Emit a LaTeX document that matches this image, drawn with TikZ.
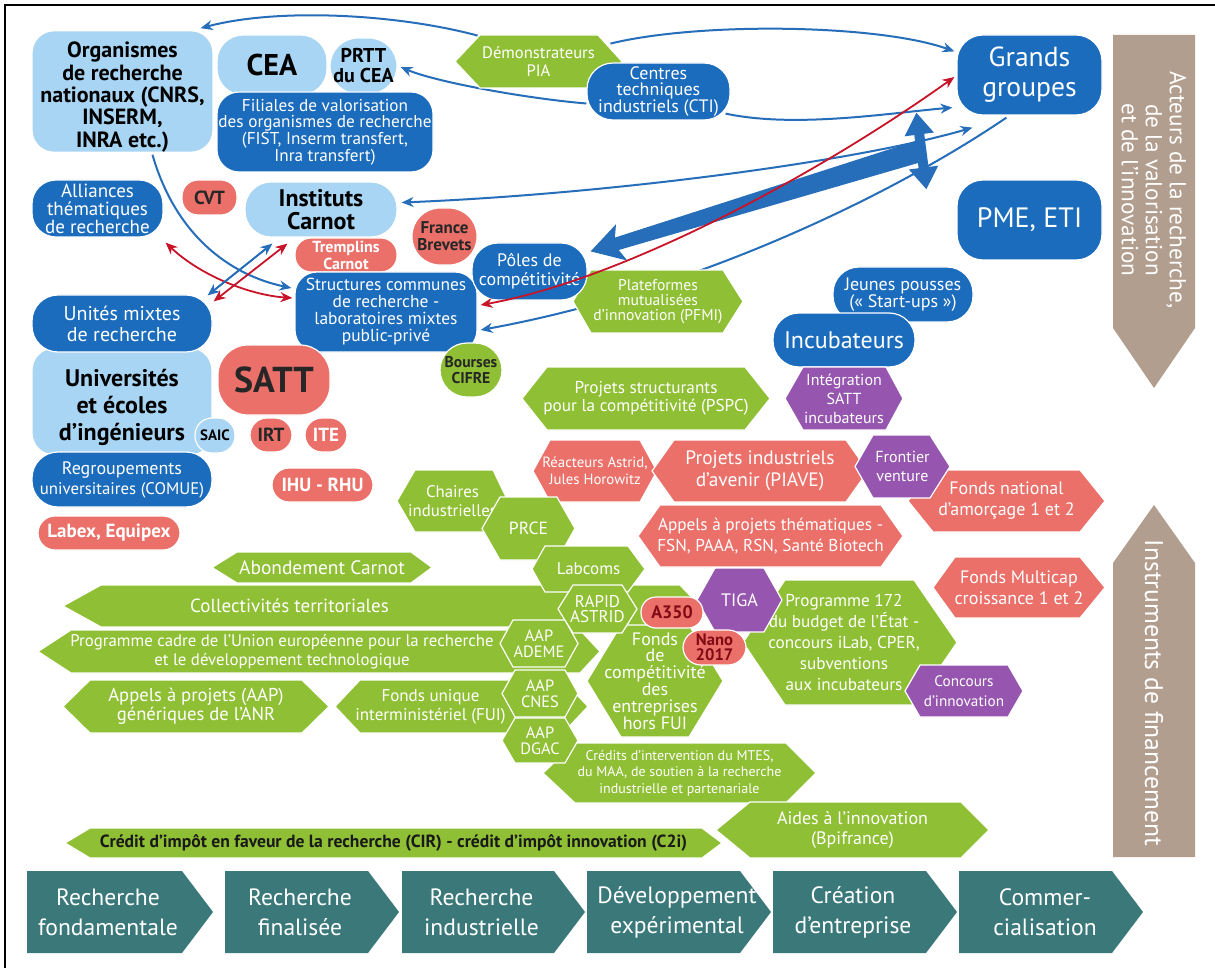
\documentclass[tikz,border=0pt]{standalone}
\usepackage{fontspec}
\setmainfont{PT Sans}
\usetikzlibrary{arrows.meta,calc}
\definecolor{clight}{RGB}{168,213,243}
\definecolor{cdark}{RGB}{27,108,188}
\definecolor{csal}{RGB}{234,112,105}
\definecolor{cgreen}{RGB}{143,191,52}
\definecolor{cpurp}{RGB}{150,85,175}
\definecolor{ctaupe}{RGB}{178,158,142}
\definecolor{cteal}{RGB}{58,120,122}
\definecolor{carrb}{RGB}{38,110,185}
\definecolor{carrr}{RGB}{200,20,40}
\definecolor{cdred}{RGB}{130,10,20}
\newcommand\fz[2]{\fontsize{#1}{#2}\selectfont}
\pgfdeclarelayer{back}
\pgfdeclarelayer{bg}
\pgfsetlayers{back,bg,main}
% box: options(name,...), style, x1, y1, x2, y2, text
\newcommand\boxn[7]{\node[#2,#1,minimum width={(#5-#3)*0.5pt},minimum height={(#6-#4)*0.5pt}] at ({(#3+#5)/2},{(#4+#6)/2}) {#7};}
% hexagon: options(name,...), fill style, x1, y1, x2, y2, inset left, inset right, text
\newcommand\hexn[9]{%
 \path[#2] (#3,{(#4+#6)/2}) -- ({#3+#7},#4) -- ({#5-#8},#4) -- (#5,{(#4+#6)/2}) -- ({#5-#8},#6) -- ({#3+#7},#6) -- cycle;
 \node[htext,#1,minimum width={(#5-#3)*0.5pt},minimum height={(#6-#4)*0.5pt}] at ({(#3+#5)/2},{(#4+#6)/2}) {#9};}
\tikzset{
 rb/.style={rectangle, rounded corners=#1, inner sep=0pt, align=center, draw=white, line width=0.6pt},
 lb/.style={rb=#1, fill=clight, text=black, font=\bfseries},
 db/.style={rb=#1, fill=cdark, text=white},
 sb/.style={rb=#1, fill=csal, text=white},
 gb/.style={rb=#1, fill=cgreen, text=black},
 htext/.style={inner sep=0pt, align=center, text=white},
 gh/.style={fill=cgreen, draw=white, line width=0.6pt},
 rh/.style={fill=csal, draw=white, line width=0.6pt},
 ph/.style={fill=cpurp, draw=white, line width=0.6pt},
 th/.style={fill=cteal},
 bconn/.style={draw=carrb, line width=1pt},
 rconn/.style={draw=carrr, line width=0.9pt},
 tipe/.style={-{Stealth[length=6pt,width=5pt]}},
 tipbo/.style={{Stealth[length=6pt,width=5pt]}-{Stealth[length=6pt,width=5pt]}},
}
\begin{document}
\begin{tikzpicture}[x=0.5pt,y=-0.5pt]
\useasboundingbox (0,0) rectangle (1215,968);
\begin{pgfonlayer}{back}
\fill[white] (0,0) rectangle (1215,968);
\end{pgfonlayer}
\draw[line width=1.2pt] (5,968) -- (5,5) -- (1215,5);

% side arrows
\path[fill=ctaupe] (1113,35) -- (1195,35) -- (1195,328) -- (1154,388) -- (1113,328) -- cycle;
\node[rotate=-90, text=white, align=center, font=\fz{11.6}{12}] (acteurs) at (1154,190) {Acteurs de la recherche,\\de la valorisation\\et de l’innovation};
\path[fill=ctaupe] (1154,505) -- (1195,563) -- (1195,857) -- (1113,857) -- (1113,563) -- cycle;
\node[rotate=-90, text=white, font=\fz{12.8}{12}] (instr) at (1154,693) {Instruments de financement};

% bottom chevrons
\hexn{name=t1,font={\fz{11.8}{15}},xshift=-6pt}{th}{27}{871}{213}{953}{0}{31}{Recherche\\fondamentale}
\hexn{name=t2,font={\fz{11.8}{15}},xshift=-6pt}{th}{225}{871}{399}{953}{0}{31}{Recherche\\finalisée}
\hexn{name=t3,font={\fz{11.8}{15}},xshift=-6pt}{th}{402}{871}{585}{953}{0}{31}{Recherche\\industrielle}
\hexn{name=t4,font={\fz{11.8}{15}},xshift=-1pt}{th}{587}{871}{771}{953}{0}{31}{Développement\\expérimental}
\hexn{name=t5,font={\fz{11.8}{15}},xshift=-6pt}{th}{773}{871}{957}{953}{0}{31}{Création\\d’entreprise}
\hexn{name=t6,font={\fz{11.8}{15}},xshift=-3pt}{th}{959}{871}{1143}{953}{0}{31}{Commer-\\cialisation}

% top-left actors
\boxn{name=org,font={\fz{11}{11.2}\bfseries}}{lb=11pt}{32}{35}{213}{148}{\rule{0pt}{13.5pt}Organismes\\de recherche\\nationaux (CNRS,\\INSERM,\\INRA etc.)}
\boxn{name=cea,font={\fz{15}{15}\bfseries}}{lb=13pt}{217}{35}{327}{95}{CEA}
\boxn{name=prtt,font={\fz{10}{10}\bfseries}}{lb=14pt}{330}{38}{397}{94}{PRTT\\du CEA}
\boxn{name=fil,font={\fz{8.6}{8.3}}}{db=11pt}{217}{92}{433}{172}{Filiales de valorisation\\des organismes de recherche\\(FIST, Inserm transfert,\\Inra transfert)}
\boxn{name=all,font={\fz{9.5}{9}}}{db=12pt}{32}{180}{163}{237}{Alliances\\thématiques\\de recherche}
\boxn{name=cvt,font={\fz{9.5}{9.5}\bfseries},text=black!85}{sb=8pt}{182}{180}{237}{215}{CVT}
\boxn{name=carnot,font={\fz{12}{11.5}\bfseries}}{lb=13pt}{245}{182}{397}{237}{Instituts\\Carnot}
\boxn{name=tremp,font={\fz{8}{8.5}\bfseries}}{sb=8pt}{295}{238}{397}{272}{Tremplins\\Carnot}
\boxn{name=fb,font={\fz{8.5}{8.5}\bfseries},text=black!85}{sb=14pt}{412}{208}{477}{265}{France\\Brevets}

\hexn{name=demo,font={\fz{8.3}{9}}}{gh}{455}{35}{622}{88}{25}{24}{Démonstrateurs\\PIA}
\boxn{name=cti,font={\fz{9}{8.3}}}{db=13pt}{587}{63}{730}{120}{Centres\\techniques\\industriels (CTI)}
\boxn{name=gg,font={\fz{13.8}{15}}}{db=13pt}{957}{35}{1102}{115}{Grands\\groupes}
\boxn{name=pme,font={\fz{14}{14}}}{db=13pt}{957}{180}{1102}{260}{PME, ETI}
\boxn{name=jp,font={\fz{9}{8.5}}}{db=13pt}{833}{267}{973}{322}{Jeunes pousses\\(« Start-ups »)}
\boxn{name=incub,font={\fz{12}{12}}}{db=13pt}{773}{313}{915}{367}{Incubateurs}

\hexn{name=pfmi,font={\fz{7.8}{7.6}}}{gh}{573}{270}{743}{333}{18}{20}{Plateformes\\mutualisées\\d’innovation (PFMI)}
\boxn{name=scr,font={\fz{8.7}{8.5}}}{db=11pt}{295}{272}{477}{352}{Structures communes\\de recherche -\\laboratoires mixtes\\public-privé}
\boxn{name=poles,font={\fz{9}{9.5}}}{db=13pt}{472}{243}{587}{300}{Pôles de\\compétitivité}

\boxn{name=univ,font={\fz{12}{13.5}\bfseries}}{lb=11pt}{32}{348}{212}{455}{\rule{0pt}{14.5pt}Universités\\et écoles\\d’ingénieurs}
\boxn{name=umr,font={\fz{10}{10.5}}}{db=13pt}{32}{295}{212}{352}{Unités mixtes\\de recherche}
\boxn{name=comue,font={\fz{9}{10}}}{db=13pt}{32}{452}{212}{507}{Regroupements\\{\fz{8.4}{10}universitaires (COMUE)}}
\boxn{name=saic,font={\fz{7.5}{8}\bfseries}}{lb=8.5pt}{195}{418}{235}{453}{SAIC}
\boxn{name=satt,font={\fz{18}{18}\bfseries},text=black!85}{sb=15pt}{218}{345}{330}{415}{SATT}
\boxn{name=irt,font={\fz{9.5}{9.5}\bfseries},text=black!85}{sb=8.5pt}{250}{418}{292}{452}{IRT}
\boxn{name=ite,font={\fz{9.5}{9.5}\bfseries}}{sb=8.5pt}{305}{418}{347}{452}{ITE}
\boxn{name=ihu,font={\fz{9.5}{9.5}\bfseries}}{sb=8.5pt}{272}{468}{373}{502}{IHU - RHU}
\boxn{name=labex,font={\fz{9.5}{9.5}\bfseries}}{sb=8.5pt}{38}{516}{180}{550}{Labex, Equipex}
\boxn{name=cifre,font={\fz{7.8}{8}\bfseries},text=black!85}{gb=13.5pt}{440}{343}{502}{397}{Bourses\\CIFRE}

% instruments, upper
\hexn{name=pspc,font={\fz{8.6}{8.8}}}{gh}{522}{367}{770}{430}{25}{25}{Projets structurants\\pour la compétitivité (PSPC)}
\hexn{name=integ,font={\fz{8}{9.5}}}{ph}{785}{367}{903}{430}{18}{17}{Intégration\\SATT\\incubateurs}
\hexn{name=reac,font={\fz{7.4}{8.5}}}{rh}{533}{440}{657}{502}{17}{17}{Réacteurs Astrid,\\Jules Horowitz}
\hexn{name=piave,font={\fz{9.7}{11}}}{rh}{652}{440}{868}{502}{22}{22}{Projets industriels\\d’avenir (PIAVE)}
\hexn{name=fna,font={\fz{9}{10.5}}}{rh}{908}{470}{1105}{532}{25}{25}{Fonds national\\d’amorçage 1 et 2}
\hexn{name=front,font={\fz{8}{9.5}}}{ph}{855}{435}{950}{498}{18}{20}{Frontier\\venture}
\hexn{name=apt,font={\fz{8.6}{10.5}}}{rh}{638}{505}{903}{567}{22}{22}{Appels à projets thématiques -\\FSN, PAAA, RSN, Santé Biotech}
\hexn{name=multicap,font={\fz{9}{10.5}}}{rh}{933}{557}{1105}{618}{22}{25}{Fonds Multicap\\croissance 1 et 2}

% instruments, lower
\hexn{name=abond,font={\fz{9.7}{10}}}{gh}{212}{552}{432}{583}{25}{21}{Abondement Carnot}
\hexn{name=collect,font={\fz{9.5}{10}},xshift=-46pt}{gh}{63}{585}{700}{627}{38}{20}{Collectivités territoriales}
\hexn{name=pcue,font={\fz{8.4}{9.6}},xshift=-18.5pt}{gh}{38}{630}{600}{673}{33}{20}{Programme cadre de l’Union européenne pour la recherche\\et le développement technologique}
\hexn{name=anr,font={\fz{9.3}{9.4}}}{gh}{63}{680}{329}{733}{27}{27}{Appels à projets (AAP)\\génériques de l’ANR}
\hexn{name=fui,font={\fz{8.5}{9.4}},xshift=-15.5pt}{gh}{335}{680}{588}{733}{25}{25}{Fonds unique\\interministériel (FUI)}
\hexn{name=cir,font={\fz{8.8}{9}\bfseries},text=black!90}{gh}{65}{828}{722}{858}{25}{20}{Crédit d’impôt en faveur de la recherche (CIR) - crédit d’impôt innovation (C2i)}
\hexn{name=chaires,font={\fz{8.4}{9.2}}}{gh}{397}{470}{508}{532}{18}{15}{Chaires\\industrielles}
\hexn{name=prce,font={\fz{8.8}{9}}}{gh}{482}{497}{575}{560}{18}{18}{PRCE}
\hexn{name=labcoms,font={\fz{8.5}{9}}}{gh}{532}{546}{645}{592}{13}{17}{Labcoms}
\hexn{name=fcomp,font={\fz{9}{8.4}}}{gh}{587}{625}{723}{737}{34}{34}{Fonds\\de\\compétitivité\\des\\entreprises\\hors FUI}
\hexn{name=credits,font={\fz{7}{8.3}}}{gh}{543}{743}{816}{803}{32}{30}{Crédits d’intervention du MTES,\\du MAA, de soutien à la recherche\\industrielle et partenariale}
\hexn{name=ademe,font={\fz{8.2}{8.2}}}{gh}{500}{620}{578}{667}{13}{13}{AAP\\ADEME}
\hexn{name=cnes,font={\fz{8.2}{8.2}}}{gh}{502}{670}{578}{717}{13}{13}{AAP\\CNES}
\hexn{name=dgac,font={\fz{8.2}{8.2}}}{gh}{502}{718}{578}{763}{13}{13}{AAP\\DGAC}
\hexn{name=rapid,font={\fz{8.5}{7.8}}}{gh}{558}{585}{637}{633}{15}{15}{RAPID\\ASTRID}
\hexn{name=p172,font={\fz{8.6}{10.4}},xshift=-3pt}{gh}{743}{580}{957}{705}{42}{43}{Programme 172\\du budget de l’État -\\concours iLab, CPER,\\subventions\\aux incubateurs}
\hexn{name=tiga,font={\fz{9}{9}}}{ph}{697}{568}{782}{632}{18}{18}{TIGA}
\boxn{name=a350,font={\fz{9}{9}\bfseries},text=cdred}{sb=7.5pt}{641}{597}{703}{628}{A350}
\boxn{name=nano,font={\fz{8.3}{7.6}\bfseries},text=cdred}{sb=9pt}{683}{630}{746}{665}{Nano\\2017}
\hexn{name=concours,font={\fz{7.6}{10}}}{ph}{905}{665}{1023}{717}{15}{15}{Concours\\d’innovation}
\hexn{name=aides,font={\fz{9}{10}}}{gh}{716}{802}{989}{858}{34}{28}{Aides à l’innovation\\(Bpifrance)}

% thin blue connectors behind the boxes
\begin{pgfonlayer}{bg}
\draw[bconn,tipe] ($(demo.north west)+(23,1)$) .. controls +(-78,-21) and +(80,-21) .. ($(org.north east)+(-13,-2)$);
\draw[bconn,tipe] ($(demo.north east)+(-12,9)$) .. controls +(90,-22) and +(-75,-27) .. ($(gg.north west)+(-2,17)$);
\draw[bconn,tipe] ($(cti.west)+(0,12)$) .. controls +(-60,-5) and +(35,15) .. ($(prtt.east)+(3,1)$);
\draw[bconn,tipe] ($(cti.south east)+(-5,-7)$) .. controls +(70,15) and +(-60,5) .. ($(gg.south west)+(-4,-8)$);
\draw[bconn,tipbo] ($(carnot.east)+(4,-7)$) .. controls +(200,-8) and +(-120,35) .. ($(gg.south west)+(16,12)$);
\draw[bconn,tipe] ($(gg.south west)+(50,2)$) .. controls +(-107,73) and +(220,-40) .. ($(scr.east)+(3,18)$);
\draw[bconn,tipe] ($(org.south)+(30,2)$) .. controls +(23,80) and +(-62,-13) .. ($(scr.west)+(-3,-24)$);
\end{pgfonlayer}

% thick arrows
\coordinate (vt) at ($(gg.south west)+(-40,-3)$);
\coordinate (vb) at ($(pme.north west)+(-30,10)$);
\draw[carrb, line width=5pt, {Triangle[width=14pt,length=11pt]}-{Triangle[width=14pt,length=11pt]}] (vt) -- (vb);
\fill[carrb] (916.8,140.5) -- (614.9,237.6) -- (616.0,224.2) -- ($(poles.north east)+(3,9)$) -- (627.2,260.5) -- (618.7,250.0) -- (923.2,161.5) -- cycle;

% connectors on top
\draw[rconn,tipbo] ($(scr.east)+(3,-7)$) .. controls +(140,-25) and +(-140,100) .. ($(gg.west)+(-2,2)$);
\draw[rconn,tipbo] ($(all.south east)+(2,5)$) .. controls +(35,33) and +(-43,-3) .. ($(scr.west)+(-2,-14)$);
\draw[bconn,tipbo] ($(umr.north east)+(-5,1)$) -- ($(carnot.south west)+(28,6)$);
\draw[rconn,tipbo] ($(umr.north east)+(1,7)$) -- ($(carnot.south west)+(43,6)$);
\end{tikzpicture}
\end{document}
